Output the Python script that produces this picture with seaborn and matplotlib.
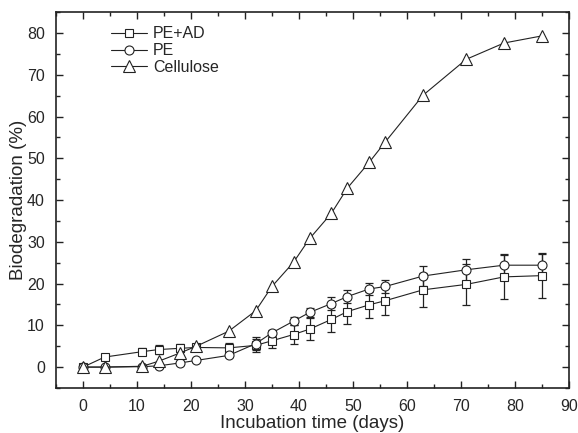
import numpy as np
import pandas as pd
import matplotlib
matplotlib.use("Agg")
import matplotlib.pyplot as plt
from matplotlib.ticker import MultipleLocator
import seaborn as sns

days = [0, 4, 11, 14, 18, 21, 27, 32, 35, 39, 42, 46, 49, 53, 56, 63, 71, 78, 85]

pe_ad = [0, 2.4, 3.7, 4.2, 4.5, 4.7, 4.6, 5.2, 6.3, 7.8, 9.1, 11.4, 13.3, 14.9, 15.9, 18.5, 19.8, 21.6, 21.9]
pe_ad_err = [0.3, 0.4, 0.8, 1.0, 1.0, 0.9, 1.2, 1.5, 1.7, 2.3, 2.7, 3.0, 3.1, 3.1, 3.4, 4.0, 4.9, 5.3, 5.4]

pe = [0, 0, 0.1, 0.3, 1.0, 1.6, 2.8, 5.6, 8.2, 11.0, 13.1, 15.2, 16.9, 18.7, 19.3, 21.8, 23.3, 24.4, 24.4]
pe_err = [0.2, 0.2, 0.2, 0.5, 0.4, 0.4, 0.5, 1.5, 0.8, 0.9, 1.0, 1.6, 1.6, 1.5, 1.6, 2.5, 2.6, 2.6, 2.6]

cellulose = [0, 0, 0.2, 1.4, 3.4, 5.0, 8.6, 13.5, 19.3, 25.1, 30.8, 36.8, 42.9, 49.0, 53.9, 65.1, 73.7, 77.6, 79.3]

series = ["PE+AD", "PE", "Cellulose"]
markers = {"PE+AD": "s", "PE": "o", "Cellulose": "^"}

df = pd.DataFrame({
    "day": days * 3,
    "value": pe_ad + pe + cellulose,
    "sample": ["PE+AD"] * len(days) + ["PE"] * len(days) + ["Cellulose"] * len(days),
})

sns.set_style("ticks")
plt.rcParams["font.family"] = ["Liberation Sans", "DejaVu Sans"]

fig = plt.figure(figsize=(5.78, 4.33), dpi=100)
ax = fig.add_axes([0.097, 0.104, 0.887, 0.868])

line_col = "#222222"

# error bars first, behind the markers
ax.errorbar(days, pe_ad, yerr=pe_ad_err, fmt="none", ecolor=line_col,
            elinewidth=0.9, capsize=3, capthick=0.9, zorder=1)
ax.errorbar(days, pe, yerr=pe_err, fmt="none", ecolor=line_col,
            elinewidth=0.9, capsize=3, capthick=0.9, zorder=1)

sizes = {"PE+AD": 6, "PE": 6.5, "Cellulose": 8}
for s in series:
    sub = df[df["sample"] == s]
    sns.lineplot(data=sub, x="day", y="value", ax=ax, color=line_col,
                 marker=markers[s], markersize=sizes[s], markerfacecolor="white",
                 markeredgecolor=line_col, markeredgewidth=0.8, linewidth=0.8,
                 label=s, zorder=3)

ax.set_xlim(-5, 90)
ax.set_ylim(-5, 85)
ax.xaxis.set_major_locator(MultipleLocator(10))
ax.xaxis.set_minor_locator(MultipleLocator(5))
ax.yaxis.set_major_locator(MultipleLocator(10))
ax.yaxis.set_minor_locator(MultipleLocator(5))
ax.tick_params(which="both", direction="in", top=True, right=True,
               labelsize=11.5, color=line_col, width=1.0)
ax.tick_params(which="major", length=5, pad=8)
ax.tick_params(which="minor", length=3)
for sp in ax.spines.values():
    sp.set_linewidth(1.2)
    sp.set_color(line_col)

ax.set_xlabel("Incubation time (days)", fontsize=13.5, labelpad=1)
ax.set_ylabel("Biodegradation (%)", fontsize=13.5, labelpad=0)

ax.legend(loc="upper left", frameon=False, fontsize=11.5, handlelength=2.2,
          handletextpad=0.4, labelspacing=0.1, bbox_to_anchor=(0.08, 1.0))

fig.savefig("out.png", dpi=100)
